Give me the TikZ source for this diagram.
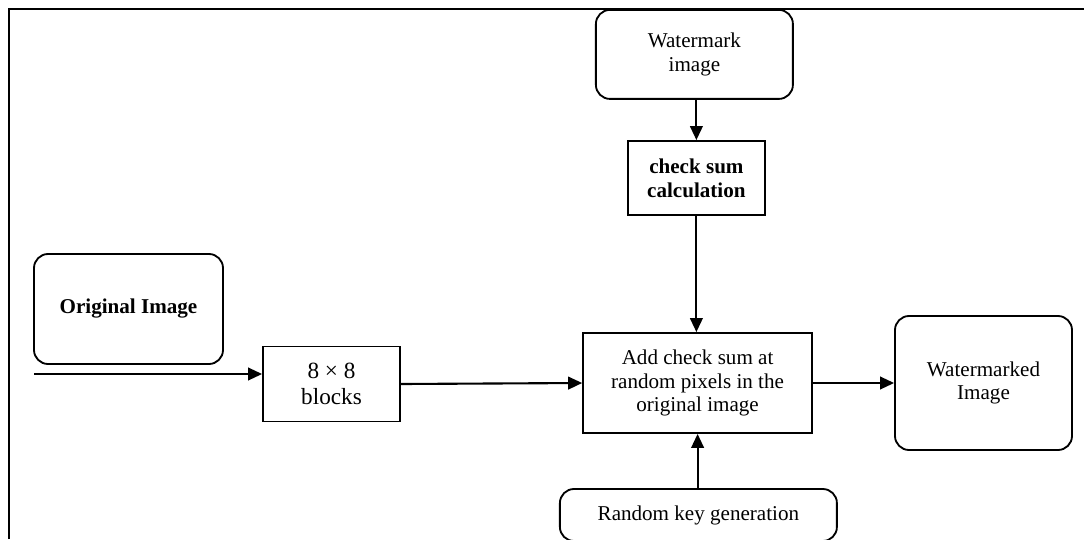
\documentclass[tikz,border=0pt]{standalone}
\usepackage{fontspec}
\setmainfont{Liberation Serif}
\usepackage{tikz}
\usetikzlibrary{positioning,arrows.meta}

\begin{document}
\begin{tikzpicture}[font=\fontsize{15}{17}\selectfont,
  line width=1.5pt, >={Triangle[length=10pt,width=9pt]},
  box/.style={draw,rectangle,align=center,inner sep=2pt,line width=1.3pt},
  rbox/.style={draw,rectangle,rounded corners=10pt,align=center,inner sep=2pt,line width=1.3pt}]
\useasboundingbox (0,0) rectangle (27.1,-13.475);
\clip (0,0) rectangle (27.1,-13.475);
% frame
\draw[line width=2pt] (0.225,-13.475) -- (0.225,-0.225) -- (27.1,-0.225);
% boxes
\node [rbox,minimum width=4.925cm,minimum height=2.225cm] (wm) at (17.36,-1.36) {Watermark\\image};
\node [box,minimum width=3.425cm,minimum height=1.85cm,font=\fontsize{15}{17}\selectfont\bfseries] (cs) at (17.41,-4.45) {check sum\\calculation};
\node [box,minimum width=5.725cm,minimum height=2.5cm] (add) at (17.44,-9.575) {Add check sum at\\random pixels in the\\original image};
\node [rbox,minimum width=6.925cm,minimum height=1.3cm] (rk) at (17.46,-12.875) {Random key generation};
\node [rbox,minimum width=4.425cm,minimum height=3.35cm] (out) at (24.5875,-9.575) {Watermarked\\Image};
\node [rbox,minimum width=4.725cm,minimum height=2.75cm,font=\fontsize{15}{17}\selectfont\bfseries] (orig) at (3.2125,-7.725) {Original Image};
\node [box,minimum width=3.425cm,minimum height=1.875cm,font=\fontsize{16.5}{19}\selectfont] (blk) at (8.2875,-9.6) {8 × 8\\blocks};
\coordinate (in) at (0.85,-9.35);
% connectors
\draw[->] (wm.south -| cs) -- (cs.north);
\draw[->] (cs.south) -- (cs.south |- add.north);
\draw[->] (rk.north -| add) -- (add.south);
\draw[->] (add.east) -- (out.west);
\draw[->] (in) -- (in -| blk.west);
\draw[->] (blk.east) -- (add.west);
\end{tikzpicture}
\end{document}
